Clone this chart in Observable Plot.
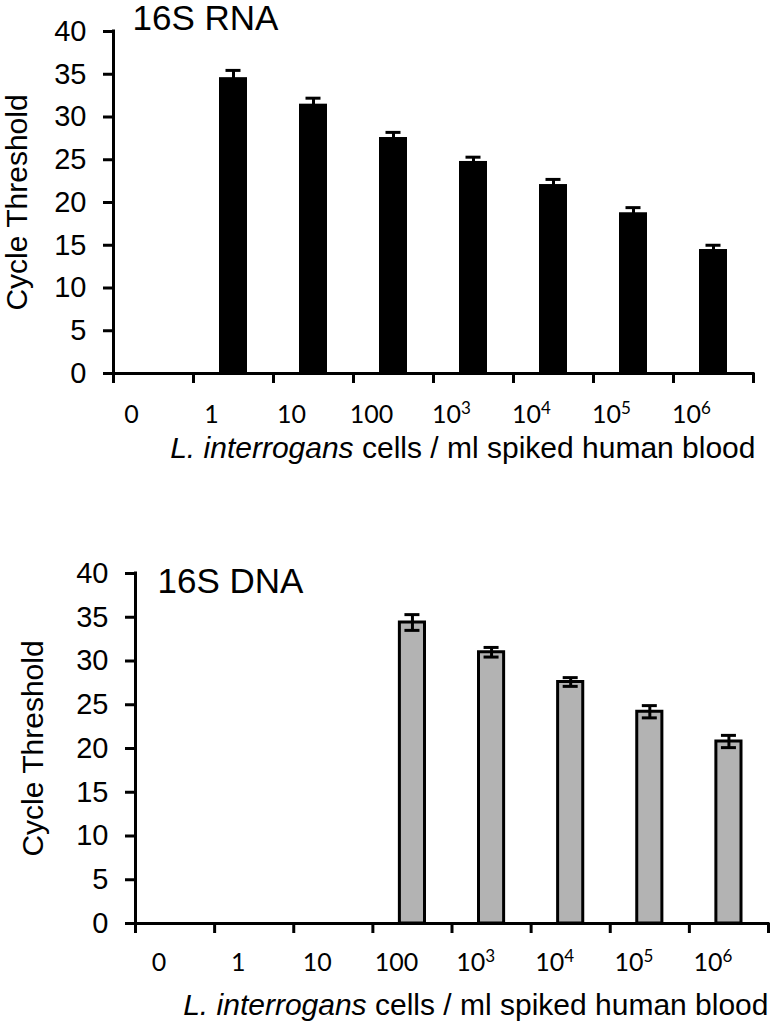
<!DOCTYPE html>
<html>
<head>
<meta charset="utf-8">
<script src="https://cdn.jsdelivr.net/npm/d3@7"></script>
<script src="https://cdn.jsdelivr.net/npm/@observablehq/plot@0.6"></script>
<style>
  html, body { margin: 0; padding: 0; background: white; }
  #chart { width: 772px; }
  #chart svg { display: block; }
</style>
</head>
<body>
<div id="chart"></div>
<script>
// ---- data ----
const categories = ["0", "1", "10", "100", "10³", "10⁴", "10⁵", "10⁶"];
const rnaCt  = [null, 34.6, 31.5, 27.6, 24.8, 22.1, 18.8, 14.5];
const rnaErr = [null, 0.85, 0.7, 0.6, 0.5, 0.6, 0.6, 0.5];
const dnaCt  = [null, null, null, 34.4, 31.0, 27.6, 24.2, 20.8];
const dnaErr = [null, null, null, 0.9, 0.55, 0.5, 0.7, 0.7];
const yTicks = [0, 5, 10, 15, 20, 25, 30, 35, 40];
const yLabel = "Cycle Threshold";
const xLabelItalic = "L. interrogans";
const xLabelRest = " cells / ml spiked human blood";
const rnaTitle = "16S RNA";
const dnaTitle = "16S DNA";

const boundaries = d3.range(categories.length + 1);
const font = "'Liberation Sans', Arial, Helvetica, sans-serif";
const supers = "⁰¹²³⁴⁵⁶⁷⁸⁹";
const ns = "http://www.w3.org/2000/svg";

function rows(ct, err) {
  return categories.map((c, i) => ({i, c, ct: ct[i], err: err[i]})).filter(d => d.ct != null);
}

function panel(cfg) {
  const data = rows(cfg.ct, cfg.err);
  const svg = Plot.plot({
    width: 772,
    height: cfg.height,
    marginLeft: cfg.ml,
    marginRight: cfg.mr,
    marginTop: cfg.mt,
    marginBottom: cfg.mb,
    style: {fontFamily: font, fontSize: "28px", color: "black", background: "white", overflow: "visible"},
    x: {type: "linear", domain: [0, categories.length]},
    y: {type: "linear", domain: [0, 40]},
    marks: [
      Plot.rectY(data, {x1: d => d.i, x2: d => d.i + 1, y: "ct", fill: cfg.fill,
        stroke: cfg.stroke, strokeWidth: cfg.strokeWidth, insetLeft: cfg.inset, insetRight: cfg.inset}),
      Plot.ruleX(data, {x: d => d.i + 0.5, y1: d => d.ct - d.err, y2: d => d.ct + d.err, stroke: "black", strokeWidth: 3}),
      Plot.ruleY(data, {y: d => d.ct + d.err, x1: d => d.i + 0.5, x2: d => d.i + 0.5, insetLeft: -7.5, insetRight: -7.5, stroke: "black", strokeWidth: 3}),
      Plot.ruleY(data, {y: d => d.ct - d.err, x1: d => d.i + 0.5, x2: d => d.i + 0.5, insetLeft: -7.5, insetRight: -7.5, stroke: "black", strokeWidth: 3}),
      Plot.axisY({ticks: yTicks, tickSize: 10, tickPadding: 17, strokeWidth: 3, fontSize: 29, label: null}),
      Plot.axisX({ticks: boundaries, tickSize: 10, tickFormat: () => "", strokeWidth: 3, label: null}),
      Plot.ruleX([0], {y1: 0, y2: 40, stroke: "black", strokeWidth: 3, strokeLinecap: "square"}),
      Plot.ruleY([0], {x1: 0, x2: categories.length, stroke: "black", strokeWidth: 3, strokeLinecap: "square"}),
      Plot.text(categories, {x: (d, i) => i + 0.5, text: d => d, frameAnchor: "bottom", lineAnchor: "top",
        dx: cfg.tickDx, dy: cfg.tickDy, fontFamily: "Lato, 'Open Sans', sans-serif", fontSize: 25}),
      Plot.text([cfg.title], {frameAnchor: "top-left", textAnchor: "start", lineAnchor: "top",
        dx: cfg.titleDx, dy: cfg.titleDy, fontSize: 35}),
      Plot.text([yLabel], {frameAnchor: "left", rotate: -90, textAnchor: "middle", lineAnchor: "bottom",
        dx: cfg.yLabDx, fontSize: 30}),
      Plot.text([xLabelItalic + xLabelRest], {frameAnchor: "bottom-right", textAnchor: "end", lineAnchor: "bottom",
        dx: cfg.xLabDx, dy: cfg.xLabDy, fontSize: 30})
    ]
  });
  svg.querySelectorAll("text").forEach(t => {
    const s = t.textContent;
    // italicize the species name inside the x-axis label
    if (s === xLabelItalic + xLabelRest) {
      t.textContent = "";
      const a = document.createElementNS(ns, "tspan");
      a.setAttribute("font-style", "italic");
      a.textContent = xLabelItalic;
      const b = document.createElementNS(ns, "tspan");
      b.textContent = xLabelRest;
      t.appendChild(a);
      t.appendChild(b);
    } else if (categories.includes(s) && [...s].some(ch => supers.includes(ch))) {
      // render superscript exponent as a raised, smaller tspan
      const chars = [...s];
      const base = chars.filter(ch => !supers.includes(ch)).join("");
      const exp = chars.filter(ch => supers.includes(ch)).map(ch => supers.indexOf(ch)).join("");
      t.textContent = "";
      const a = document.createElementNS(ns, "tspan");
      a.textContent = base;
      const b = document.createElementNS(ns, "tspan");
      b.setAttribute("font-size", "17");
      b.setAttribute("dy", "-9");
      b.textContent = exp;
      t.appendChild(a);
      t.appendChild(b);
    }
  });
  return svg;
}

const chart = document.getElementById("chart");
chart.appendChild(panel({
  ct: rnaCt, err: rnaErr, title: rnaTitle,
  height: 480, ml: 113, mr: 19, mt: 31, mb: 107,
  fill: "black", stroke: "none", strokeWidth: 0, inset: 26,
  tickDx: -22, tickDy: 32, titleDx: 19, titleDy: -26, yLabDx: -87, xLabDx: 2, xLabDy: 84
}));
chart.appendChild(panel({
  ct: dnaCt, err: dnaErr, title: dnaTitle,
  height: 542, ml: 135, mr: 4, mt: 93, mb: 99,
  fill: "#b3b3b3", stroke: "black", strokeWidth: 3, inset: 27,
  tickDx: -16, tickDy: 30, titleDx: 22, titleDy: -5, yLabDx: -93, xLabDx: 0, xLabDy: 91
}));
</script>
</body>
</html>
